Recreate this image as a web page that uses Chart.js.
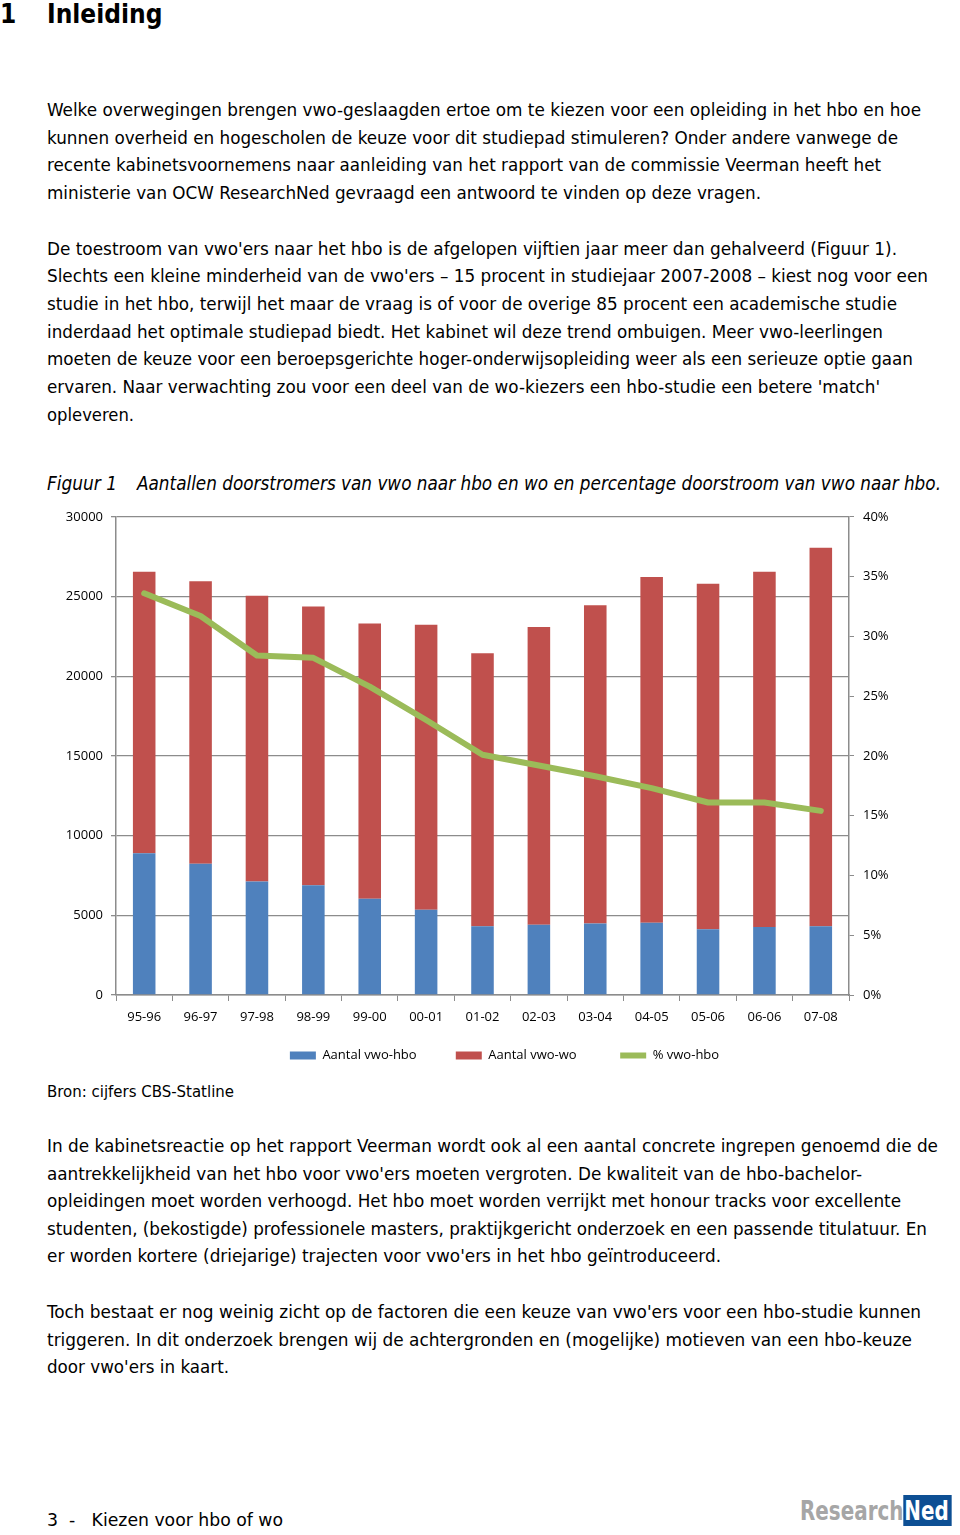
<!DOCTYPE html>
<html lang="nl">
<head>
<meta charset="utf-8">
<title>Inleiding</title>
<script src="https://cdn.jsdelivr.net/npm/chart.js@4.4.1/dist/chart.umd.min.js"></script>
<style>
  html, body { margin: 0; padding: 0; background: #fff; }
  body { width: 960px; height: 1535px; position: relative; overflow: hidden;
         font-family: "DejaVu Sans Condensed", "DejaVu Sans", sans-serif; color: #000; }
  .ln { position: absolute; left: 47px; white-space: nowrap; font-size: 18.5px;
        transform-origin: 0 50%; line-height: 1; }
  h1 { position: absolute; margin: 0; top: 0; left: 0; font-size: 26px; font-weight: bold;
       font-family: "DejaVu Sans Condensed", sans-serif; line-height: 28px; }
  h1 span { position: absolute; left: 47px; }
  .cap { font-style: italic; font-size: 19px; }
  #wrap { position: absolute; left: 40px; top: 500px; width: 929px; height: 572px; }
  .logo { font-weight: bold; font-size: 27px; line-height: 34px; }
  .logo .g { color: #a6a6a6; }
  .logo .b { background: #0d4f94; color: #fff; padding: 0 4px 0 1px; }
</style>
</head>
<body>
<h1>1<span>Inleiding</span></h1>

<div class="ln" data-y="110" data-r="921">Welke overwegingen brengen vwo-geslaagden ertoe om te kiezen voor een opleiding in het hbo en hoe</div>
<div class="ln" data-y="138" data-r="898">kunnen overheid en hogescholen de keuze voor dit studiepad stimuleren? Onder andere vanwege de</div>
<div class="ln" data-y="165" data-r="881">recente kabinetsvoornemens naar aanleiding van het rapport van de commissie Veerman heeft het</div>
<div class="ln" data-y="193" data-r="761">ministerie van OCW ResearchNed gevraagd een antwoord te vinden op deze vragen.</div>

<div class="ln" data-y="249" data-r="897">De toestroom van vwo'ers naar het hbo is de afgelopen vijftien jaar meer dan gehalveerd (Figuur 1).</div>
<div class="ln" data-y="276" data-r="928">Slechts een kleine minderheid van de vwo'ers – 15 procent in studiejaar 2007-2008 – kiest nog voor een</div>
<div class="ln" data-y="304" data-r="897">studie in het hbo, terwijl het maar de vraag is of voor de overige 85 procent een academische studie</div>
<div class="ln" data-y="332" data-r="883">inderdaad het optimale studiepad biedt. Het kabinet wil deze trend ombuigen. Meer vwo-leerlingen</div>
<div class="ln" data-y="359" data-r="913">moeten de keuze voor een beroepsgerichte hoger-onderwijsopleiding weer als een serieuze optie gaan</div>
<div class="ln" data-y="387" data-r="880">ervaren. Naar verwachting zou voor een deel van de wo-kiezers een hbo-studie een betere 'match'</div>
<div class="ln" data-y="415" data-r="134">opleveren.</div>

<div class="ln cap" data-y="483" data-r="117">Figuur 1</div>
<div class="ln cap" data-y="483" data-x="137" data-r="941">Aantallen doorstromers van vwo naar hbo en wo en percentage doorstroom van vwo naar hbo.</div>

<div id="wrap"><canvas id="chartDoorstroom"></canvas></div>

<div class="ln" data-y="1092" data-r="234" style="font-size:16.5px">Bron: cijfers CBS-Statline</div>

<div class="ln" data-y="1146" data-r="938">In de kabinetsreactie op het rapport Veerman wordt ook al een aantal concrete ingrepen genoemd die de</div>
<div class="ln" data-y="1174" data-r="862">aantrekkelijkheid van het hbo voor vwo'ers moeten vergroten. De kwaliteit van de hbo-bachelor-</div>
<div class="ln" data-y="1201" data-r="901">opleidingen moet worden verhoogd. Het hbo moet worden verrijkt met honour tracks voor excellente</div>
<div class="ln" data-y="1229" data-r="927">studenten, (bekostigde) professionele masters, praktijkgericht onderzoek en een passende titulatuur. En</div>
<div class="ln" data-y="1256" data-r="721">er worden kortere (driejarige) trajecten voor vwo'ers in het hbo geïntroduceerd.</div>

<div class="ln" data-y="1312" data-r="921">Toch bestaat er nog weinig zicht op de factoren die een keuze van vwo'ers voor een hbo-studie kunnen</div>
<div class="ln" data-y="1340" data-r="912">triggeren. In dit onderzoek brengen wij de achtergronden en (mogelijke) motieven van een hbo-keuze</div>
<div class="ln" data-y="1367" data-r="229">door vwo'ers in kaart.</div>

<div class="ln" data-y="1520" data-r="283">3&nbsp;&nbsp;-&nbsp;&nbsp;&nbsp;Kiezen voor hbo of wo</div>

<div class="ln logo" data-y="1511" data-x="800" data-r="952"><span class="g">Research</span><span class="b">Ned</span></div>

<script>
// tekstregels op de juiste plek en breedte zetten
document.querySelectorAll('.ln').forEach(function (el) {
    var x = el.dataset.x ? Number(el.dataset.x) : 47;
    el.style.left = x + 'px';
    el.style.top = (Number(el.dataset.y) - el.offsetHeight / 2) + 'px';
    var w = el.getBoundingClientRect().width;
    var doel = Number(el.dataset.r) - x;
    el.style.transform = 'scaleX(' + (doel / w) + ')';
});

// Figuur 1: doorstroom vwo naar hbo en wo
const jaren = ['95-96', '96-97', '97-98', '98-99', '99-00', '00-01', '01-02',
               '02-03', '03-04', '04-05', '05-06', '06-06', '07-08'];
const aantalVwoHbo = [8900, 8230, 7120, 6880, 6040, 5350, 4310, 4400, 4480, 4540, 4130, 4270, 4310];
const aantalVwoWo = [17650, 17720, 17930, 17500, 17260, 17870, 17130, 18690, 19970, 21680, 21670, 22280, 23750];
const procentVwoHbo = [33.6, 31.7, 28.4, 28.2, 25.8, 23.0, 20.1, 19.2, 18.3, 17.3, 16.1, 16.1, 15.4];
const ticksLinks = [0, 5000, 10000, 15000, 20000, 25000, 30000];
const ticksRechts = [0, 5, 10, 15, 20, 25, 30, 35, 40];

const grijs = '#8c8c8c';
const fontAs = { family: "'Open Sans', 'Noto Sans', sans-serif", size: 13 };
// extra ruimte achter de legendatekst, zoals in Excel
const legendaRuimte = ['\u2003\u2009', '\u2003\u2002', ''];

new Chart(document.getElementById('chartDoorstroom'), {
    data: {
        labels: jaren,
        datasets: [
            {
                type: 'line',
                label: '% vwo-hbo',
                data: procentVwoHbo,
                yAxisID: 'y1',
                borderColor: '#9bbb59',
                backgroundColor: '#9bbb59',
                borderWidth: 6,
                borderCapStyle: 'round',
                borderJoinStyle: 'round',
                pointRadius: 0,
                pointStyle: 'line',
                tension: 0,
                order: 0
            },
            {
                type: 'bar',
                label: 'Aantal vwo-hbo',
                data: aantalVwoHbo,
                backgroundColor: '#4f81bd',
                barPercentage: 0.4,
                categoryPercentage: 1,
                pointStyle: 'rect',
                order: 1
            },
            {
                type: 'bar',
                label: 'Aantal vwo-wo',
                data: aantalVwoWo,
                backgroundColor: '#c0504d',
                barPercentage: 0.4,
                categoryPercentage: 1,
                pointStyle: 'rect',
                order: 1
            }
        ]
    },
    options: {
        responsive: true,
        maintainAspectRatio: false,
        animation: false,
        layout: { padding: { top: 6, right: 0, left: 0, bottom: 0 } },
        scales: {
            x: {
                stacked: true,
                offset: true,
                grid: { offset: true, drawOnChartArea: false, color: grijs, tickLength: 6 },
                border: { color: grijs, width: 1.5 },
                ticks: { color: '#000', font: fontAs, padding: 8, maxRotation: 0 },
                afterFit: function (s) { s.height = 30; }
            },
            y: {
                stacked: true,
                min: 0,
                max: 30000,
                afterBuildTicks: function (s) { s.ticks = ticksLinks.map(v => ({ value: v })); },
                grid: { color: grijs, lineWidth: 1.3, tickLength: 5 },
                border: { color: grijs, width: 1.5 },
                ticks: { color: '#000', font: fontAs, padding: 8, callback: v => String(v) },
                afterFit: function (s) { s.width = 76; }
            },
            y1: {
                position: 'right',
                min: 0,
                max: 40,
                afterBuildTicks: function (s) { s.ticks = ticksRechts.map(v => ({ value: v })); },
                grid: { drawOnChartArea: false, color: grijs, tickLength: 5 },
                border: { color: grijs, width: 1.5 },
                ticks: { color: '#000', font: fontAs, padding: 9, callback: v => v + '%' },
                afterFit: function (s) { s.width = 120; }
            }
        },
        plugins: {
            legend: {
                position: 'bottom',
                labels: {
                    color: '#000',
                    font: fontAs,
                    usePointStyle: true,
                    pointStyleWidth: 26,
                    boxHeight: 8,
                    padding: 24,
                    sort: (a, b) => (a.datasetIndex === 0) - (b.datasetIndex === 0) || a.datasetIndex - b.datasetIndex,
                    generateLabels: function (chart) {
                        const items = Chart.defaults.plugins.legend.labels.generateLabels(chart);
                        items.forEach(function (it) {
                            const plek = it.datasetIndex === 0 ? 2 : it.datasetIndex - 1;
                            it.text = it.text + legendaRuimte[plek];
                        });
                        return items;
                    }
                }
            },
            tooltip: { enabled: false }
        }
    }
});
</script>
</body>
</html>
